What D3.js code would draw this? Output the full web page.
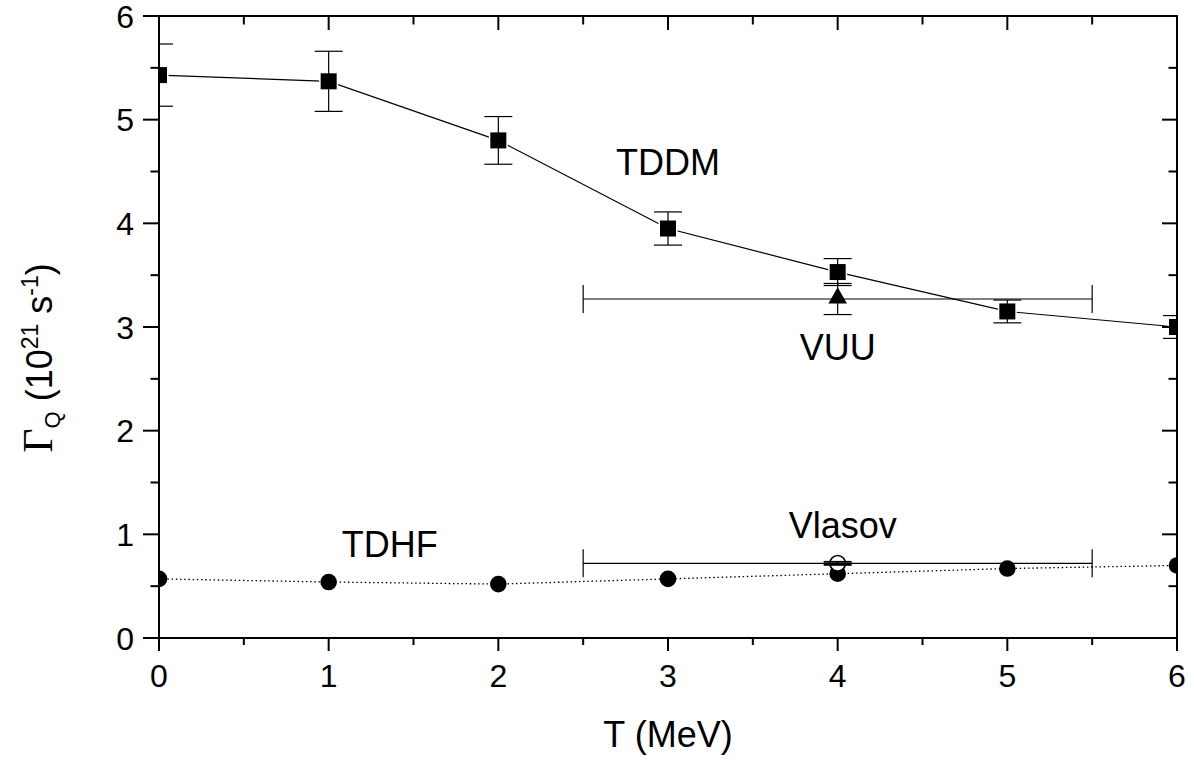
<!DOCTYPE html>
<html><head><meta charset="utf-8">
<script src="https://cdn.jsdelivr.net/npm/d3@7"></script>
<style>body{margin:0;background:#fff}svg{display:block}text{font-family:Arial,"Liberation Sans",sans-serif;fill:#000}</style>
</head><body><svg id="c" width="1194" height="763"></svg>
<script>
const temps = [0, 1, 2, 3, 4, 5, 6];
const tddm = [5.43, 5.37, 4.80, 3.95, 3.53, 3.15, 3.00];
const tddmErr = [0.30, 0.29, 0.23, 0.16, 0.13, 0.11, 0.11];
const tdhf = [0.57, 0.54, 0.52, 0.57, 0.62, 0.67, 0.70];
const vuuT = [4], vuuVal = [3.27], vuuXErr = [1.5], vuuYErr = [0.15];
const vlasovT = [4], vlasovVal = [0.72], vlasovXErr = [1.5], vlasovYErr = [0.015];
const xTicks = [0, 1, 2, 3, 4, 5, 6];
const yTicks = [0, 1, 2, 3, 4, 5, 6];
const labels = [
  {text: "TDDM", t: 3.0, v: 4.47},
  {text: "VUU", t: 4.0, v: 2.68},
  {text: "TDHF", t: 1.36, v: 0.78},
  {text: "Vlasov", t: 4.03, v: 0.965}
];

const svg = d3.select("#c");
const L = 159, R = 1177, T = 16, B = 638;
const x = d3.scaleLinear().domain([0, 6]).range([L, R]);
const y = d3.scaleLinear().domain([0, 6]).range([B, T]);
const minorX = d3.range(0.5, 6, 1), minorY = d3.range(0.5, 6, 1);

svg.append("clipPath").attr("id", "clip").append("rect")
  .attr("x", L).attr("y", T).attr("width", R - L).attr("height", B - T);
const g = svg.append("g").attr("clip-path", "url(#clip)");

// TDHF dotted line
g.append("path").datum(temps.map((t, i) => [t, tdhf[i]]))
  .attr("d", d3.line().x(d => x(d[0])).y(d => y(d[1])))
  .attr("fill", "none").attr("stroke", "#000").attr("stroke-width", 1.3)
  .attr("stroke-dasharray", "1.5,2.7");
// TDDM solid line
g.append("path").datum(temps.map((t, i) => [t, tddm[i]]))
  .attr("d", d3.line().x(d => x(d[0])).y(d => y(d[1])))
  .attr("fill", "none").attr("stroke", "#000").attr("stroke-width", 1.2);

// TDHF circles
g.selectAll(".tdhf").data(temps).enter().append("circle")
  .attr("cx", d => x(d)).attr("cy", (d, i) => y(tdhf[i])).attr("r", 8.3).attr("fill", "#000");

// TDDM squares with white halo
const sq = 16;
g.selectAll(".sq").data(temps).enter().append("rect")
  .attr("x", d => x(d) - sq / 2).attr("y", (d, i) => y(tddm[i]) - sq / 2)
  .attr("width", sq).attr("height", sq).attr("fill", "#000")
  .attr("stroke", "#fff").attr("stroke-width", 3).attr("paint-order", "stroke");
// VUU triangle
const tri = d3.symbol().type(d3.symbolTriangle).size(150);
g.selectAll(".tri").data(vuuT).enter().append("path")
  .attr("d", tri).attr("transform", (d, i) => `translate(${x(d)},${y(vuuVal[i]) - 1})`)
  .attr("fill", "#000");

// error bars
const cap = 14;
function vErr(t, v, e, w) {
  g.append("line").attr("x1", x(t)).attr("x2", x(t)).attr("y1", y(v + e)).attr("y2", y(v - e)).attr("stroke", "#000").attr("stroke-width", w);
  [v + e, v - e].forEach(c => g.append("line").attr("x1", x(t) - cap).attr("x2", x(t) + cap).attr("y1", y(c)).attr("y2", y(c)).attr("stroke", "#000").attr("stroke-width", w));
}
function hErr(t, v, e, w) {
  g.append("line").attr("x1", x(t - e)).attr("x2", x(t + e)).attr("y1", y(v)).attr("y2", y(v)).attr("stroke", "#000").attr("stroke-width", w);
  [t - e, t + e].forEach(c => g.append("line").attr("x1", x(c)).attr("x2", x(c)).attr("y1", y(v) - cap).attr("y2", y(v) + cap).attr("stroke", "#000").attr("stroke-width", w));
}
temps.forEach((t, i) => vErr(t, tddm[i], tddmErr[i], 1.2));
vuuT.forEach((t, i) => { hErr(t, vuuVal[i], vuuXErr[i], 1.2); vErr(t, vuuVal[i], vuuYErr[i], 1.2); });
// Vlasov open circle
g.selectAll(".vl").data(vlasovT).enter().append("circle")
  .attr("cx", d => x(d)).attr("cy", (d, i) => y(vlasovVal[i])).attr("r", 7.8)
  .attr("fill", "#fff").attr("stroke", "#000").attr("stroke-width", 1.6);
vlasovT.forEach((t, i) => { hErr(t, vlasovVal[i], vlasovXErr[i], 1.2); vErr(t, vlasovVal[i], vlasovYErr[i], 1.8); });

// axes frame
const ax = svg.append("g").attr("stroke", "#000").attr("stroke-width", 2);
ax.append("rect").attr("x", L).attr("y", T).attr("width", R - L).attr("height", B - T).attr("fill", "none");
const MJ = 15, MN = 8.5;
xTicks.forEach(t => {
  ax.append("line").attr("x1", x(t)).attr("x2", x(t)).attr("y1", B).attr("y2", B + MJ - 2);
  ax.append("line").attr("x1", x(t)).attr("x2", x(t)).attr("y1", T).attr("y2", T + MJ - 1);
});
minorX.forEach(t => {
  ax.append("line").attr("x1", x(t)).attr("x2", x(t)).attr("y1", B).attr("y2", B + MN - 1.5);
  ax.append("line").attr("x1", x(t)).attr("x2", x(t)).attr("y1", T).attr("y2", T + MN);
});
yTicks.forEach(v => {
  ax.append("line").attr("x1", L - MJ - 1).attr("x2", L).attr("y1", y(v)).attr("y2", y(v));
  ax.append("line").attr("x1", R - MJ).attr("x2", R).attr("y1", y(v)).attr("y2", y(v));
});
minorY.forEach(v => {
  ax.append("line").attr("x1", L - MN).attr("x2", L).attr("y1", y(v)).attr("y2", y(v));
  ax.append("line").attr("x1", R - MN).attr("x2", R).attr("y1", y(v)).attr("y2", y(v));
});

// tick labels
svg.selectAll(".xl").data(xTicks).enter().append("text")
  .attr("x", d => x(d)).attr("y", 687).attr("text-anchor", "middle")
  .attr("font-size", 32).text(d => d);
svg.selectAll(".yl").data(yTicks).enter().append("text")
  .attr("x", 134).attr("y", d => y(d) + 11.5).attr("text-anchor", "end")
  .attr("font-size", 32).text(d => d);

// annotations
svg.selectAll(".ann").data(labels).enter().append("text")
  .attr("x", d => x(d.t)).attr("y", d => y(d.v)).attr("text-anchor", "middle")
  .attr("font-size", 36).text(d => d.text);

// axis titles
svg.append("text").attr("x", (L + R) / 2).attr("y", 747).attr("text-anchor", "middle")
  .attr("font-size", 36).text("T (MeV)");
const yt = svg.append("text").attr("transform", "translate(52,358) rotate(-90)")
  .attr("text-anchor", "middle").attr("font-size", 36);
yt.append("tspan").attr("font-family", "'Liberation Serif','Times New Roman',serif").attr("font-size", 42).text("Γ");
yt.append("tspan").attr("font-size", 22).attr("dy", 8).text("Q");
yt.append("tspan").attr("dy", -8).text(" (10");
yt.append("tspan").attr("font-size", 23).attr("dy", -14).text("21");
yt.append("tspan").attr("dy", 14).text(" s");
yt.append("tspan").attr("font-size", 23).attr("dy", -14).text("-1");
yt.append("tspan").attr("dy", 14).text(")");
</script></body></html>
